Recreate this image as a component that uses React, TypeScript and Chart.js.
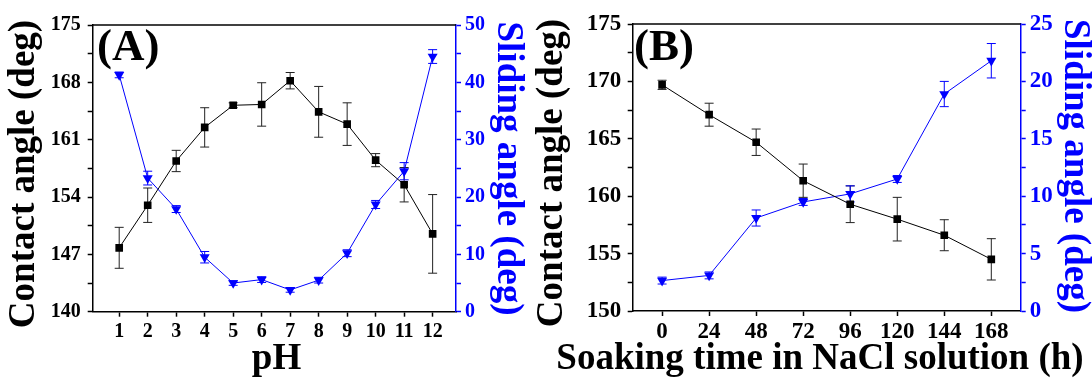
import React, { useEffect, useRef } from 'react';
import { Chart, registerables } from 'chart.js';

Chart.register(...registerables);

// ---------- Data ----------
const pHValues = [1, 2, 3, 4, 5, 6, 7, 8, 9, 10, 11, 12];
const contactA = [147.8, 153.0, 158.4, 162.5, 165.2, 165.3, 168.2, 164.4, 162.9, 158.5, 155.5, 149.5];
const contactAErr = [2.5, 2.1, 1.3, 2.4, 0.3, 2.65, 1.0, 3.1, 2.6, 0.8, 2.1, 4.8];
const slidingA = [41.3, 23.3, 17.9, 9.5, 5.0, 5.6, 3.8, 5.5, 10.2, 18.7, 24.5, 44.5];
const slidingAErr = [0.5, 1.2, 0.6, 1.0, 0.4, 0.5, 0.4, 0.5, 0.6, 0.7, 1.5, 1.2];

const hours = [0, 24, 48, 72, 96, 120, 144, 168];
const contactB = [169.7, 167.1, 164.7, 161.35, 159.3, 158.0, 156.6, 154.5];
const contactBErr = [0.4, 1.0, 1.15, 1.45, 1.6, 1.9, 1.35, 1.8];
const slidingB = [2.65, 3.1, 8.1, 9.5, 10.2, 11.5, 18.9, 21.8];
const slidingBErr = [0.3, 0.3, 0.7, 0.3, 0.7, 0.3, 1.1, 1.5];

// ---------- Tick lists ----------
const xTicksA = [1, 2, 3, 4, 5, 6, 7, 8, 9, 10, 11, 12];
const leftTicksA = [140, 143.5, 147, 150.5, 154, 157.5, 161, 164.5, 168, 171.5, 175];
const leftLabelsA = [140, 147, 154, 161, 168, 175];
const rightTicksA = [0, 5, 10, 15, 20, 25, 30, 35, 40, 45, 50];
const rightLabelsA = [0, 10, 20, 30, 40, 50];

const xTicksB = [0, 24, 48, 72, 96, 120, 144, 168];
const leftTicksB = [150, 152.5, 155, 157.5, 160, 162.5, 165, 167.5, 170, 172.5, 175];
const leftLabelsB = [150, 155, 160, 165, 170, 175];
const rightTicksB = [0, 2.5, 5, 7.5, 10, 12.5, 15, 17.5, 20, 22.5, 25];
const rightLabelsB = [0, 5, 10, 15, 20, 25];

const leftTitle = 'Contact angle (deg)';
const rightTitle = 'Sliding angle (deg)';

const BLUE = '#0000ff';
const BLACK = '#000000';
const FONT = "'Liberation Serif', 'Times New Roman', serif";

type Pos = { x: number; y: number };

type PanelSpec = {
  left: number;
  width: number;
  height: number;
  areaLeft: number;
  rightW: number;
  top: number;
  bottomH: number;
  xMin: number;
  xMax: number;
  xVals: number[];
  xTicks: number[];
  contact: number[];
  contactErr: number[];
  sliding: number[];
  slidingErr: number[];
  leftMin: number;
  leftMax: number;
  leftTicks: number[];
  leftLabels: number[];
  rightMin: number;
  rightMax: number;
  rightTicks: number[];
  rightLabels: number[];
  tickSize: number;
  leftPad: number;
  rightPad: number;
  xPad: number;
  xTitle: string;
  panelLabel: string;
  labelPos: Pos;
  leftTitlePos: Pos;
  rightTitlePos: Pos;
  xTitlePos: Pos;
};

const panelA: PanelSpec = {
  left: 0, width: 546, height: 378,
  areaLeft: 92.7, rightW: 90, top: 25, bottomH: 66.3,
  xMin: 0.07, xMax: 12.82, xVals: pHValues, xTicks: xTicksA,
  contact: contactA, contactErr: contactAErr, sliding: slidingA, slidingErr: slidingAErr,
  leftMin: 140, leftMax: 175, leftTicks: leftTicksA, leftLabels: leftLabelsA,
  rightMin: 0, rightMax: 50, rightTicks: rightTicksA, rightLabels: rightLabelsA,
  tickSize: 20, leftPad: 7, rightPad: 4, xPad: 3,
  xTitle: 'pH', panelLabel: '(A)', labelPos: { x: 97, y: 60 },
  leftTitlePos: { x: 24, y: 174 },
  rightTitlePos: { x: 508, y: 168.5 },
  xTitlePos: { x: 276.5, y: 369 },
};

const panelB: PanelSpec = {
  left: 528, width: 564, height: 378,
  areaLeft: 104.7, rightW: 71.3, top: 24, bottomH: 67,
  xMin: -15, xMax: 183, xVals: hours, xTicks: xTicksB,
  contact: contactB, contactErr: contactBErr, sliding: slidingB, slidingErr: slidingBErr,
  leftMin: 150, leftMax: 175, leftTicks: leftTicksB, leftLabels: leftLabelsB,
  rightMin: 0, rightMax: 25, rightTicks: rightTicksB, rightLabels: rightLabelsB,
  tickSize: 23, leftPad: 6.5, rightPad: 4, xPad: 2,
  xTitle: 'Soaking time in NaCl solution (h)', panelLabel: '(B)', labelPos: { x: 106, y: 60 },
  leftTitlePos: { x: 24.5, y: 173 },
  rightTitlePos: { x: 546.5, y: 166 },
  xTitlePos: { x: 292, y: 369 },
};

const errorBarPlugin = {
  id: 'errorBars',
  beforeDatasetsDraw(chart: any) {
    const ctx = chart.ctx;
    chart.data.datasets.forEach((ds: any) => {
      const xs = chart.scales.x;
      const ys = chart.scales[ds.yAxisID];
      ctx.save();
      ctx.strokeStyle = ds.errColor;
      ctx.lineWidth = 1;
      ds.data.forEach((pt: any, i: number) => {
        const e = ds.errors[i];
        const x = xs.getPixelForValue(pt.x);
        const y1 = ys.getPixelForValue(pt.y + e);
        const y2 = ys.getPixelForValue(pt.y - e);
        ctx.beginPath();
        ctx.moveTo(x, y1);
        ctx.lineTo(x, y2);
        ctx.moveTo(x - 4.5, y1);
        ctx.lineTo(x + 4.5, y1);
        ctx.moveTo(x - 4.5, y2);
        ctx.lineTo(x + 4.5, y2);
        ctx.stroke();
      });
      ctx.restore();
    });
  },
};

const titlesPlugin = {
  id: 'panelTitles',
  afterDraw(chart: any) {
    const ctx = chart.ctx;
    const a = chart.chartArea;
    const o = chart.options.plugins.panelTitles;
    ctx.save();
    // top frame line
    ctx.strokeStyle = BLACK;
    ctx.lineWidth = 1.5;
    ctx.beginPath();
    ctx.moveTo(a.left, a.top);
    ctx.lineTo(a.right, a.top);
    ctx.stroke();
    // panel label
    ctx.fillStyle = BLACK;
    ctx.font = `bold 45px ${FONT}`;
    ctx.textAlign = 'left';
    ctx.textBaseline = 'alphabetic';
    ctx.fillText(o.label, o.labelPos.x, o.labelPos.y);
    // axis titles
    ctx.font = `bold 37px ${FONT}`;
    ctx.textAlign = 'center';
    ctx.fillText(o.xTitle, o.xTitlePos.x, o.xTitlePos.y);
    ctx.textBaseline = 'middle';
    ctx.save();
    ctx.translate(o.leftTitlePos.x, o.leftTitlePos.y);
    ctx.rotate(-Math.PI / 2);
    ctx.fillText(o.leftTitle, 0, 0);
    ctx.restore();
    ctx.save();
    ctx.fillStyle = BLUE;
    ctx.translate(o.rightTitlePos.x, o.rightTitlePos.y);
    ctx.rotate(Math.PI / 2);
    ctx.fillText(o.rightTitle, 0, 0);
    ctx.restore();
    ctx.restore();
  },
};

function Panel({ p }: { p: PanelSpec }) {
  const ref = useRef<HTMLCanvasElement | null>(null);
  useEffect(() => {
    if (!ref.current) return;
    const tickFont = { family: FONT, size: p.tickSize, weight: 'bold' as const };
    const chart = new Chart(ref.current, {
      type: 'line',
      data: {
        datasets: [
          {
            label: 'Contact angle',
            data: p.xVals.map((x, i) => ({ x, y: p.contact[i] })),
            yAxisID: 'y',
            borderColor: BLACK,
            backgroundColor: BLACK,
            borderWidth: 1,
            pointStyle: 'rect',
            pointRadius: 5.4,
            pointBorderWidth: 0,
            pointBackgroundColor: BLACK,
            errors: p.contactErr,
            errColor: '#222222',
          } as any,
          {
            label: 'Sliding angle',
            data: p.xVals.map((x, i) => ({ x, y: p.sliding[i] })),
            yAxisID: 'y1',
            borderColor: BLUE,
            backgroundColor: BLUE,
            borderWidth: 1,
            pointStyle: 'triangle',
            pointRotation: 180,
            pointRadius: 5.8,
            pointBorderWidth: 0,
            pointBackgroundColor: BLUE,
            errors: p.slidingErr,
            errColor: BLUE,
          } as any,
        ],
      },
      options: {
        responsive: false,
        animation: false,
        layout: { padding: { top: p.top, left: 0, right: 0, bottom: 0 } },
        plugins: {
          legend: { display: false },
          tooltip: { enabled: false },
          panelTitles: {
            label: p.panelLabel,
            labelPos: p.labelPos,
            xTitle: p.xTitle,
            xTitlePos: p.xTitlePos,
            leftTitle,
            leftTitlePos: p.leftTitlePos,
            rightTitle,
            rightTitlePos: p.rightTitlePos,
          },
        } as any,
        scales: {
          x: {
            type: 'linear',
            min: p.xMin,
            max: p.xMax,
            afterBuildTicks: (s: any) => { s.ticks = p.xTicks.map((v) => ({ value: v })); },
            afterFit: (s: any) => { s.height = p.bottomH; },
            grid: { display: true, drawOnChartArea: false, drawTicks: true, tickLength: 5, tickColor: BLACK, tickWidth: 1.5 },
            border: { display: true, color: BLACK, width: 1.5 },
            ticks: { color: BLACK, font: tickFont, padding: p.xPad, maxRotation: 0, autoSkip: false, callback: (v: any) => String(v) },
          },
          y: {
            type: 'linear',
            position: 'left',
            min: p.leftMin,
            max: p.leftMax,
            afterBuildTicks: (s: any) => { s.ticks = p.leftTicks.map((v) => ({ value: v })); },
            afterFit: (s: any) => { s.width = p.areaLeft; },
            grid: { display: true, drawOnChartArea: false, drawTicks: true, tickLength: 5, tickColor: BLACK, tickWidth: 1.5 },
            border: { display: true, color: BLACK, width: 1.5 },
            ticks: {
              color: BLACK, font: tickFont, padding: p.leftPad, autoSkip: false,
              callback: (v: any) => (p.leftLabels.includes(Number(v)) ? String(v) : ''),
            },
          },
          y1: {
            type: 'linear',
            position: 'right',
            min: p.rightMin,
            max: p.rightMax,
            afterBuildTicks: (s: any) => { s.ticks = p.rightTicks.map((v) => ({ value: v })); },
            afterFit: (s: any) => { s.width = p.rightW; },
            grid: { display: true, drawOnChartArea: false, drawTicks: true, tickLength: 5, tickColor: BLUE, tickWidth: 1.5 },
            border: { display: true, color: BLUE, width: 1.5 },
            ticks: {
              color: BLUE, font: tickFont, padding: p.rightPad, autoSkip: false,
              callback: (v: any) => (p.rightLabels.includes(Number(v)) ? String(v) : ''),
            },
          },
        },
      } as any,
      plugins: [errorBarPlugin, titlesPlugin],
    });
    return () => chart.destroy();
  }, [p]);
  return (
    <div style={{ position: 'absolute', left: p.left, top: 0, width: p.width, height: p.height }}>
      <canvas ref={ref} width={p.width} height={p.height} style={{ display: 'block' }} />
    </div>
  );
}

export default function App() {
  return (
    <div style={{ position: 'fixed', left: 0, top: 0, width: 1092, height: 378, background: '#ffffff', overflow: 'hidden' }}>
      <Panel p={panelA} />
      <Panel p={panelB} />
    </div>
  );
}
